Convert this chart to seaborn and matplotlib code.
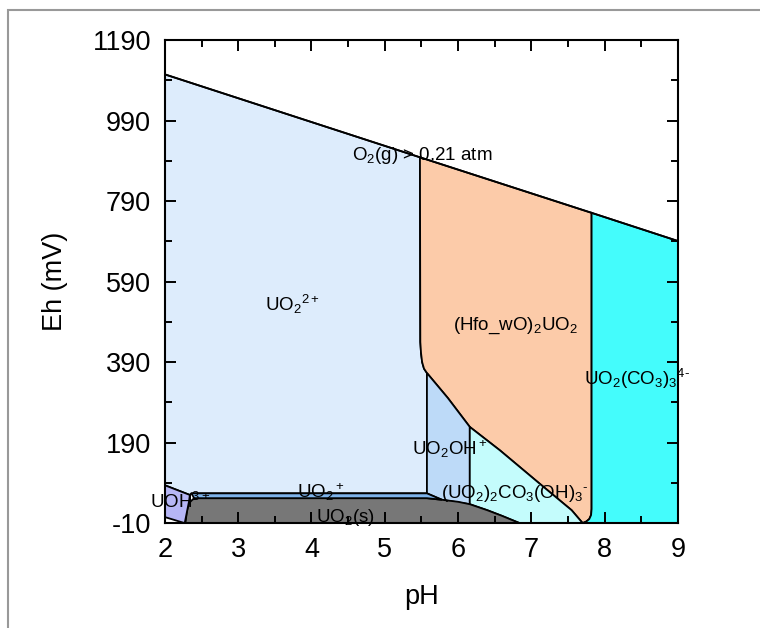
import seaborn as sns
import pandas as pd
import matplotlib.pyplot as plt
from matplotlib.patches import Rectangle

# boundary lines (pH, Eh in mV)
o2_ph = [2.0, 5.48, 7.822, 9.0]
o2_eh = [1105, 899, 761, 691]

# left edge of the (Hfo_wO)2UO2 field, top to bottom
hfo_left_ph = [5.48, 5.485, 5.495, 5.51, 5.535, 5.575]
hfo_left_eh = [899, 440, 412, 390, 374, 363]

# lower-left edge of the (Hfo_wO)2UO2 field
diag_ph = [5.575, 5.86, 6.16, 6.57, 7.12, 7.55, 7.70]
diag_eh = [363, 301, 229, 171, 87, 22, -10]

# right edge of the (Hfo_wO)2UO2 field, top to bottom
hfo_right_ph = [7.822, 7.822, 7.815, 7.79, 7.75, 7.70]
hfo_right_eh = [761, 25, 10, 0, -6, -10]

# top of the UO2(s) field, left to right
gray_ph = [2.28, 2.30, 2.33, 2.38, 2.46, 5.575, 5.78, 6.0, 6.16, 6.4, 6.6, 6.84]
gray_eh = [-10, 20, 40, 49, 52, 52, 48, 43, 37, 22, 8, -10]

uo2_top = 64
uohoh_edge = 6.16
uo2oh_left = 5.575

uoh_ph = [2.0, 2.34, 2.33, 2.27, 2.0]
uoh_eh = [84, 60, 45, -10, 5]

labels = ['UO$_2$$^{2+}$', 'O$_2$(g) > 0.21 atm', '(Hfo_wO)$_2$UO$_2$',
          'UO$_2$(CO$_3$)$_3$$^{4\u2010}$', 'UO$_2$OH$^+$',
          '(UO$_2$)$_2$CO$_3$(OH)$_3$$^{\u2010}$', 'UO$_2$$^+$', 'UOH$^{3+}$',
          'UO$_2$(s)']
label_ph = [3.36, 4.55, 5.93, 7.72, 5.37, 5.77, 3.80, 1.80, 4.06]
label_eh = [517, 893, 470, 334, 160, 53, 52, 28, -6]

sns.set_style('ticks')
plt.rcParams['font.family'] = ['Liberation Sans', 'DejaVu Sans']
plt.rcParams['mathtext.fontset'] = 'custom'
plt.rcParams['mathtext.rm'] = 'Liberation Sans'
plt.rcParams['mathtext.it'] = 'Liberation Sans'
plt.rcParams['axes.unicode_minus'] = False
plt.rcParams['text.color'] = 'black'
plt.rcParams['axes.labelcolor'] = 'black'
plt.rcParams['xtick.color'] = 'black'
plt.rcParams['ytick.color'] = 'black'
plt.rcParams['axes.edgecolor'] = 'black'

fig = plt.figure(figsize=(7.6, 6.28), dpi=100)
ax = fig.add_axes([0.217, 0.167, 0.675, 0.769])
ax.set_axisbelow(False)

edge = dict(edgecolor='black', linewidth=1.3)

# UO2++ field
p_ph = o2_ph[:2] + hfo_left_ph[1:] + [uo2oh_left, 2.36] + uoh_ph[1::-1]
p_eh = o2_eh[:2] + hfo_left_eh[1:] + [uo2_top, uo2_top] + uoh_eh[1::-1]
ax.fill(p_ph, p_eh, facecolor='#ddecfc', **edge)

# (Hfo_wO)2UO2 field
p_ph = o2_ph[1:3] + hfo_right_ph[1:] + diag_ph[::-1][1:] + hfo_left_ph[::-1][1:]
p_eh = o2_eh[1:3] + hfo_right_eh[1:] + diag_eh[::-1][1:] + hfo_left_eh[::-1][1:]
ax.fill(p_ph, p_eh, facecolor='#fccba9', **edge)

# UO2(CO3)3 4- field
p_ph = o2_ph[2:] + [9.0] + hfo_right_ph[::-1]
p_eh = o2_eh[2:] + [-10] + hfo_right_eh[::-1]
ax.fill(p_ph, p_eh, facecolor='#44fcfc', **edge)

# UO2OH+ field
p_ph = diag_ph[:3] + [uohoh_edge] + [5.78, uo2oh_left]
p_eh = diag_eh[:3] + [37] + [48, uo2_top]
ax.fill(p_ph, p_eh, facecolor='#bddaf8', **edge)

# (UO2)2CO3(OH)3- field
p_ph = diag_ph[2:] + gray_ph[::-1][:4]
p_eh = diag_eh[2:] + gray_eh[::-1][:4]
ax.fill(p_ph, p_eh, facecolor='#c4fcfc', **edge)

# UO2(s) field
ax.fill(gray_ph, gray_eh, facecolor='#777777', **edge)

# UO2+ strip
p_ph = [2.36, uo2oh_left, 5.78, uo2oh_left, 2.40]
p_eh = [uo2_top, uo2_top, 48, 52, 52]
ax.fill(p_ph, p_eh, facecolor='#7eb3ea', **edge)

# UOH+++ field
ax.fill(uoh_ph, uoh_eh, facecolor='#b6b6f6', **edge)

# O2 line
o2 = pd.DataFrame({'pH': o2_ph, 'Eh': o2_eh})
sns.lineplot(data=o2, x='pH', y='Eh', color='black', linewidth=1.3, ax=ax, sort=False)

for t, x, y in zip(labels, label_ph, label_eh):
    ax.text(x, y, t, fontsize=13.5, ha='left', va='baseline', clip_on=False, zorder=5)

ax.set_xlim(2, 9)
ax.set_ylim(-10, 1190)
ax.set_xticks(range(2, 10))
ax.set_xticks([i + 0.5 for i in range(2, 9)], minor=True)
ax.set_yticks(range(-10, 1191, 200))
ax.set_yticks(range(90, 1191, 200), minor=True)
ax.tick_params(which='both', direction='in', top=True, right=True, width=1.4,
               labelsize=19.5)
ax.tick_params(axis='x', which='major', pad=10)
ax.tick_params(axis='y', which='major', pad=10)
ax.tick_params(which='major', length=8)
ax.tick_params(which='minor', length=5)
for s in ax.spines.values():
    s.set_linewidth(1.5)
    s.set_zorder(6)
ax.set_xlabel('pH', fontsize=19.5, labelpad=15)
ax.set_ylabel('Eh (mV)', fontsize=19.5, labelpad=18)

fig.patches.append(Rectangle((0.0105, -0.1), 1.2, 1.084, transform=fig.transFigure,
                             fill=False, edgecolor='#999999', linewidth=1.5))

fig.savefig('out.png', dpi=100)
